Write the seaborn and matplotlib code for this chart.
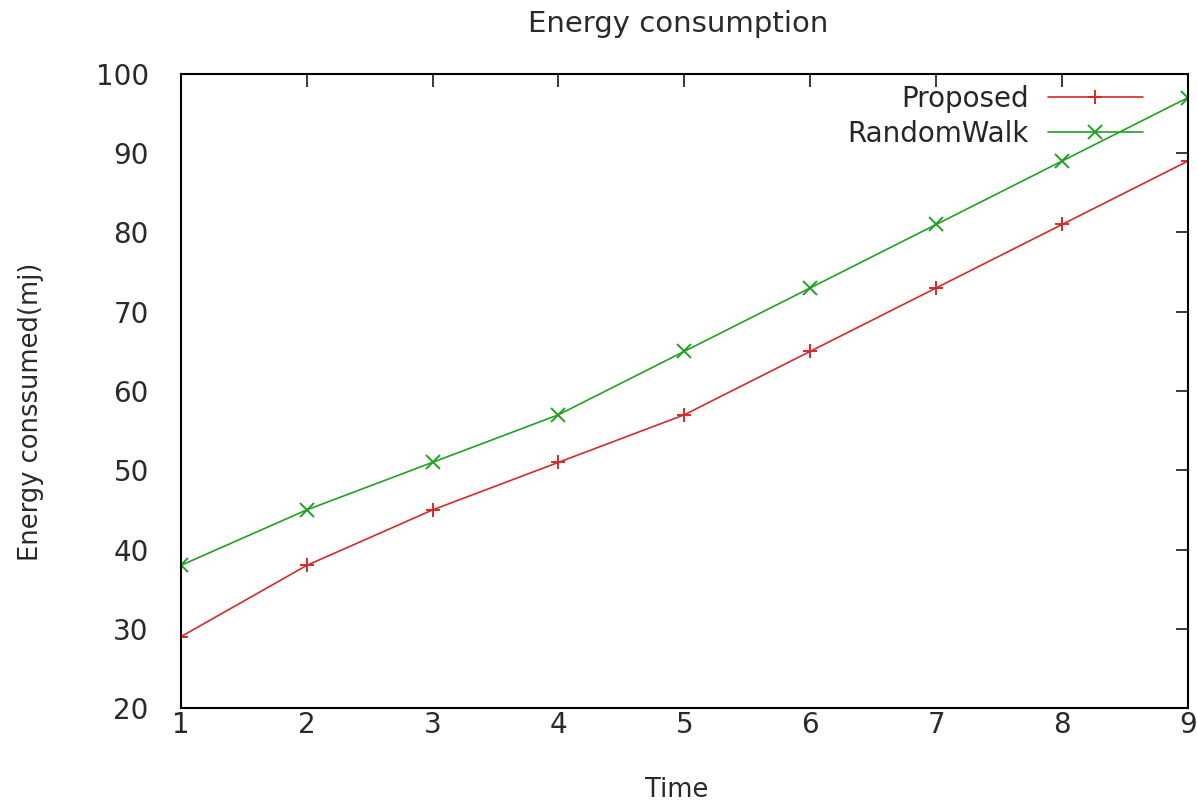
import matplotlib
matplotlib.use("Agg")
import matplotlib.pyplot as plt
import seaborn as sns
import pandas as pd

time = [1, 2, 3, 4, 5, 6, 7, 8, 9]
proposed = [29, 38, 45, 51, 57, 65, 73, 81, 89]
random_walk = [38, 45, 51, 57, 65, 73, 81, 89, 97]
y_ticks = [20, 30, 40, 50, 60, 70, 80, 90, 100]

df = pd.DataFrame({
    "Time": time * 2,
    "Energy": proposed + random_walk,
    "Method": ["Proposed"] * len(time) + ["RandomWalk"] * len(time),
})

sns.set_style("white")
plt.rcParams['font.family'] = ['DejaVu Sans']

fig, ax = plt.subplots(figsize=(11.97, 8.02), dpi=100)
fig.subplots_adjust(left=0.151, right=0.9925, top=0.908, bottom=0.117)

palette = {"Proposed": "#d42a2a", "RandomWalk": "#22a022"}
sns.lineplot(data=df, x="Time", y="Energy", hue="Method", style="Method",
             markers={"Proposed": "+", "RandomWalk": "x"}, dashes=False,
             palette=palette, linewidth=1.2, markersize=10, markeredgewidth=1.4,
             ax=ax)
# seaborn paints marker edges white; "+" and "x" need the line colour
for ln in ax.lines:
    ln.set_markeredgecolor(ln.get_color())

ax.set_xlim(1, 9)
ax.set_ylim(20, 100)
ax.set_xticks(time)
ax.set_yticks(y_ticks)
ax.tick_params(direction="in", length=9, width=1.3, top=True, right=True,
               labelsize=20, colors="#2a2a2a")
ax.tick_params(axis="x", pad=2)
ax.tick_params(axis="y", pad=23)
for s in ax.spines.values():
    s.set_linewidth(1.5)
    s.set_color("black")

ax.set_title("Energy consumption", fontsize=21, pad=30, color="#2a2a2a", x=0.494)
ax.set_xlabel("Time", fontsize=18.5, color="#2a2a2a")
ax.set_ylabel("Energy conssumed(mj)", fontsize=18.5, color="#2a2a2a")
ax.xaxis.set_label_coords(0.492, -0.108)
ax.yaxis.set_label_coords(-0.136, 0.467)

leg = ax.legend(loc="upper right", frameon=False, markerfirst=False, fontsize=20,
                handlelength=3.4, handletextpad=0.7, borderaxespad=0.0,
                labelspacing=0.25, bbox_to_anchor=(0.966, 1.0))
for h in leg.legend_handles:
    h.set_markeredgecolor(h.get_color())

fig.savefig("out.png", dpi=100)
